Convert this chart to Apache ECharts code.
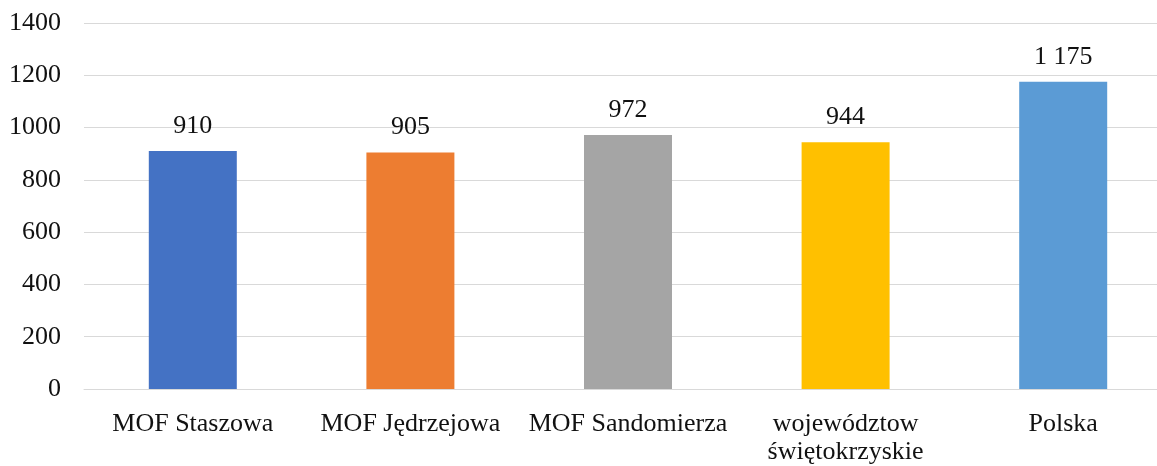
<!DOCTYPE html>
<html>
<head>
<meta charset="utf-8">
<script src="https://cdn.jsdelivr.net/npm/echarts@6/dist/echarts.min.js"></script>
<style>
  html, body { margin: 0; padding: 0; background: #fff; overflow: hidden; }
  #main { width: 1172px; height: 466px; }
</style>
</head>
<body>
<div id="main"></div>
<script>
var categories = ['MOF Staszowa', 'MOF Jędrzejowa', 'MOF Sandomierza', 'województow\nświętokrzyskie', 'Polska'];
var values = [910, 905, 972, 944, 1175];
var barColors = ['#4472C4', '#ED7D31', '#A5A5A5', '#FFC000', '#5B9BD5'];

var font = '"Liberation Serif", "Times New Roman", serif';

// 1175 -> "1 175"
function fmtNum(v) {
    return String(v).replace(/\B(?=(\d{3})+(?!\d))/g, ' ');
}

var chart = echarts.init(document.getElementById('main'));
chart.setOption({
    animation: false,
    grid: { left: 84, top: 23, right: 0, height: 368, containLabel: false },
    xAxis: {
        type: 'category',
        data: categories,
        axisTick: { show: false },
        axisLine: { lineStyle: { color: '#d9d9d9', width: 1 } },
        axisLabel: { color: '#111', fontFamily: font, fontSize: 26, margin: 21, lineHeight: 28, interval: 0 }
    },
    yAxis: {
        type: 'value',
        min: 0,
        max: 1400,
        interval: 200,
        axisLine: { show: false },
        axisTick: { show: false },
        axisLabel: {
            color: '#111', fontFamily: font, fontSize: 26, margin: 23,
            formatter: function (v) { return String(v); }
        },
        splitLine: { lineStyle: { color: '#d9d9d9', width: 1 } }
    },
    series: [{
        type: 'bar',
        barWidth: 88,
        data: values.map(function (v, i) {
            return { value: v, itemStyle: { color: barColors[i] } };
        }),
        label: {
            show: true,
            position: 'top',
            distance: 12,
            color: '#111',
            fontFamily: font,
            fontSize: 26,
            formatter: function (p) { return fmtNum(p.value); }
        }
    }]
});
</script>
</body>
</html>
